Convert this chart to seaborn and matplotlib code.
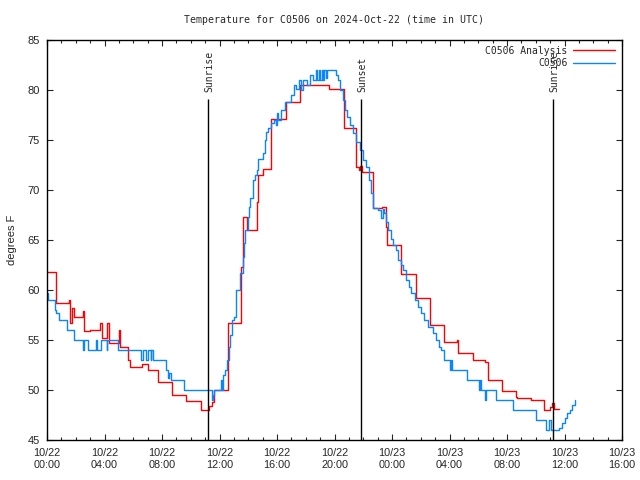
import numpy as np
import pandas as pd
import matplotlib
matplotlib.use('Agg')
import matplotlib.pyplot as plt
import seaborn as sns
from matplotlib.ticker import MultipleLocator

# hours since 2024-10-22 00:00 UTC, temperature in F (step breakpoints)
analysis_hours = [0.0, 0.6, 1.5, 1.6, 1.75, 1.85, 2.5, 2.6, 3.0, 3.7, 3.8, 4.2, 4.3,
                  5.0, 5.1, 5.6, 5.75, 6.6, 7.0, 7.7, 8.7, 9.7, 10.7, 11.25, 11.45,
                  11.6, 12.6, 13.5, 13.6, 13.9, 14.6, 14.7, 15.0, 15.6, 16.65, 17.6,
                  19.6, 20.65, 21.5, 21.7, 21.8, 21.9, 22.65, 23.3, 23.55, 23.65,
                  24.6, 25.65, 26.65, 27.6, 28.5, 28.6, 29.65, 30.5, 30.65, 31.65,
                  32.6, 32.7, 33.65, 34.6, 35.0, 35.15, 35.25, 35.6]
analysis_temps = [61.8, 58.7, 59.0, 56.7, 58.2, 57.3, 57.9, 55.9, 56.0, 56.7, 55.2, 56.7, 54.7,
                  56.0, 54.3, 53.0, 52.3, 52.6, 52.0, 50.8, 49.5, 48.9, 48.0, 48.4, 48.8,
                  50.0, 56.7, 62.3, 67.3, 66.0, 68.8, 71.5, 72.1, 77.1, 78.8, 80.5,
                  80.1, 76.2, 72.3, 72.0, 72.4, 71.8, 68.2, 68.3, 66.3, 64.5,
                  61.6, 59.2, 56.5, 54.8, 55.0, 53.7, 53.0, 52.8, 51.0, 49.9,
                  49.3, 49.2, 49.0, 48.0, 48.3, 48.7, 48.1, 48.1]

obs_hours = [0.0, 0.1, 0.55, 0.65, 0.8, 1.4, 1.85, 1.9, 2.5, 2.6, 2.85, 3.4, 3.45, 3.75,
             4.15, 4.2, 4.95, 6.55, 6.65, 6.9, 7.0, 7.2, 7.25, 7.4, 8.3, 8.4, 8.5, 8.6,
             9.55, 11.45, 11.55, 11.65, 12.1, 12.15, 12.25, 12.35, 12.55, 12.65, 12.75,
             12.85, 13.0, 13.15, 13.45, 13.6, 13.7, 13.8, 13.95, 14.05, 14.15, 14.3,
             14.45, 14.6, 14.7, 15.0, 15.15, 15.25, 15.35, 15.55, 15.8, 15.9, 16.0, 16.1,
             16.3, 16.55, 16.95, 17.15, 17.35, 17.5, 17.7, 17.8, 18.1, 18.3, 18.5, 18.7,
             18.8, 18.9, 19.0, 19.1, 19.2, 19.3, 19.4, 19.5, 20.1, 20.25, 20.4, 20.6,
             20.75, 20.9, 21.1, 21.3, 21.5, 21.75, 21.95, 22.2, 22.4, 22.55, 22.7, 23.0,
             23.25, 23.35, 23.45, 23.55, 23.75, 23.9, 24.05, 24.3, 24.45, 24.6, 24.75,
             24.95, 25.15, 25.35, 25.6, 25.8, 26.0, 26.2, 26.5, 26.85, 27.05, 27.25,
             27.4, 27.65, 28.05, 28.1, 28.2, 29.2, 30.05, 30.12, 30.2, 30.45, 30.52,
             31.2, 31.28, 32.44, 34.02, 34.72, 34.9, 35.05, 35.65, 35.8, 36.0, 36.2,
             36.4, 36.55, 36.7]
obs_temps = [59.7, 59.0, 58.0, 57.7, 57.0, 56.0, 55.5, 55.0, 54.0, 55.0, 54.0, 55.0, 54.0, 55.0,
             54.0, 55.0, 54.0, 53.0, 54.0, 53.0, 54.0, 53.0, 54.0, 53.0, 52.0, 51.2, 51.7, 51.0,
             50.0, 49.0, 49.5, 50.0, 51.0, 50.0, 51.5, 52.0, 53.0, 54.3, 55.5,
             57.0, 57.3, 60.0, 61.7, 63.3, 64.7, 66.0, 67.3, 68.3, 69.2, 71.0,
             71.5, 72.0, 73.1, 73.7, 75.0, 75.8, 76.2, 76.7, 77.0, 76.5, 77.7, 77.0,
             78.0, 78.8, 79.5, 80.5, 80.1, 81.0, 80.0, 81.0, 80.5, 81.5, 81.0, 82.0,
             81.0, 82.0, 81.0, 82.0, 81.0, 82.0, 81.2, 82.0, 81.5, 81.0, 80.0, 79.0,
             78.0, 77.3, 76.5, 75.7, 74.8, 74.0, 73.0, 72.3, 71.0, 69.7, 68.2, 68.0,
             67.2, 68.1, 67.7, 66.8, 66.0, 65.1, 64.5, 64.0, 63.0, 62.5, 62.0,
             61.0, 60.3, 59.7, 59.0, 58.3, 57.7, 57.0, 56.3, 55.7, 55.0, 54.3,
             54.0, 53.0, 52.0, 53.0, 52.0, 51.0, 50.0, 51.0, 50.0, 49.0, 50.0,
             49.0, 49.0, 48.0, 47.0, 46.0, 47.0, 46.0, 46.2, 46.7, 47.2, 47.7,
             48.0, 48.5, 49.0]

sun_hours = [11.2, 21.85, 35.2]
sun_labels = ['Sunrise', 'Sunset', 'Sunrise']

tick_hours = list(range(0, 41, 4))
tick_labels = ['10/22\n00:00', '10/22\n04:00', '10/22\n08:00', '10/22\n12:00',
               '10/22\n16:00', '10/22\n20:00', '10/23\n00:00', '10/23\n04:00',
               '10/23\n08:00', '10/23\n12:00', '10/23\n16:00']

sns.set_style('white')
plt.rcParams['font.family'] = ['DejaVu Sans Mono']

fig = plt.figure(figsize=(6.4, 4.8), dpi=100)
ax = fig.add_axes([47/640, 40/480, 575/640, 400/480])

df_a = pd.DataFrame({'hour': analysis_hours, 'temp': analysis_temps})
df_o = pd.DataFrame({'hour': obs_hours, 'temp': obs_temps})

sns.lineplot(data=df_a, x='hour', y='temp', ax=ax, color='#ff0000', lw=1.0,
             drawstyle='steps-post', estimator=None, sort=False, label='C0506 Analysis')
sns.lineplot(data=df_o, x='hour', y='temp', ax=ax, color='#0a85ff', lw=1.0,
             drawstyle='steps-post', estimator=None, sort=False, label='C0506')

for h, lab in zip(sun_hours, sun_labels):
    ax.vlines(h, 45, 79.1, color='black', lw=1.0)
    ax.text(h + 0.12, 79.8, lab, rotation=90, ha='center', va='bottom', fontsize=7)

ax.set_xlim(0, 40)
ax.set_ylim(45, 85)
ax.set_xticks(tick_hours)
ax.set_xticklabels(tick_labels, family='Liberation Sans', fontsize=7.8, linespacing=1.25)
ax.xaxis.set_minor_locator(MultipleLocator(1))
ax.set_yticks(range(45, 86, 5))
ax.set_yticklabels([str(v) for v in range(45, 86, 5)], family='Liberation Sans', fontsize=8)
ax.tick_params(which='major', direction='in', length=4, width=0.8, top=True, right=True,
               bottom=True, left=True, pad=6)
ax.tick_params(axis='y', which='major', pad=5)
ax.tick_params(which='minor', direction='in', length=2.5, width=0.8, top=True, bottom=True)
for s in ax.spines.values():
    s.set_color('black')
    s.set_linewidth(1.0)

ax.set_xlabel('')
ax.set_ylabel('degrees F', family='Liberation Sans', fontsize=8, labelpad=8)
ax.set_title('Temperature for C0506 on 2024-Oct-22 (time in UTC)', fontsize=7.1, pad=12)

ax.legend(loc='upper right', bbox_to_anchor=(0.998, 1.0), frameon=False, markerfirst=False,
          fontsize=7, handlelength=4.3, handletextpad=0.6, labelspacing=0.25,
          borderaxespad=0.2)

fig.savefig('out.png', dpi=100)
